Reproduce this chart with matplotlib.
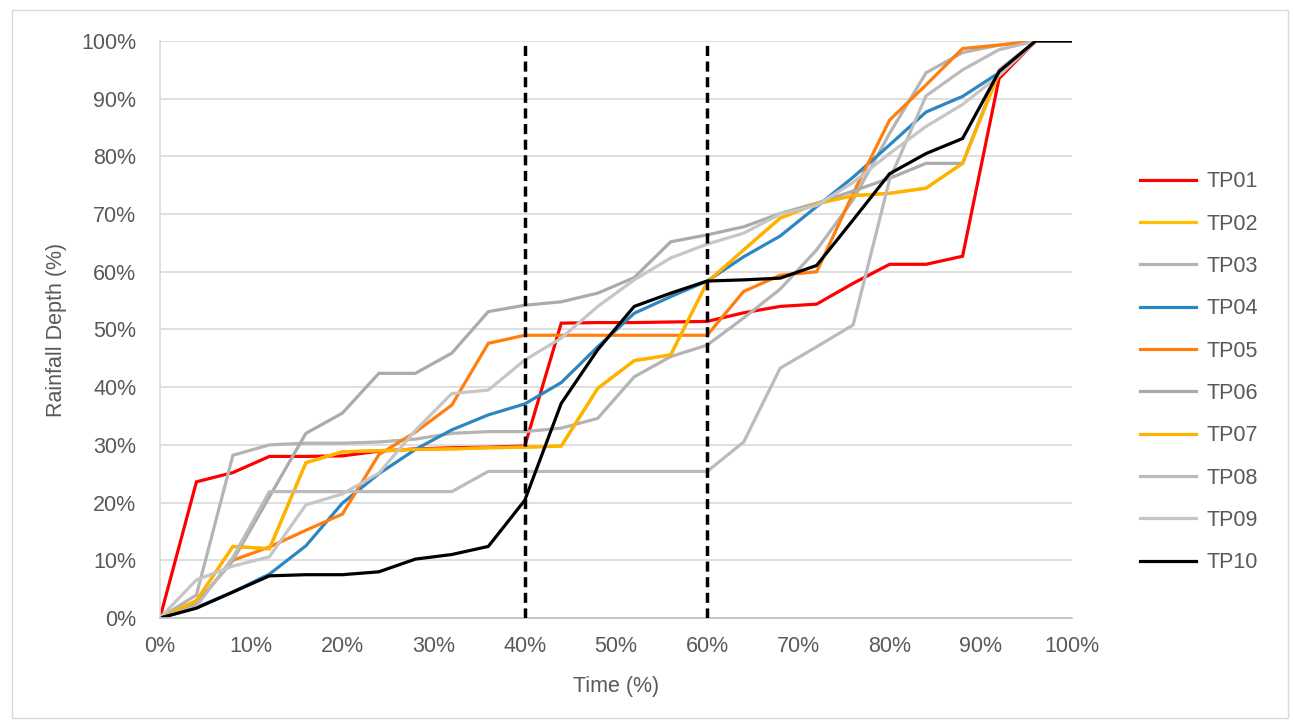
import numpy as np
import matplotlib.pyplot as plt
from matplotlib.patches import Rectangle
from matplotlib.ticker import PercentFormatter

plt.rcParams['font.family'] = ['Liberation Sans', 'DejaVu Sans']

# time axis, every 4 %
time_pct = list(range(0, 101, 4))

tp01 = [0, 23.6, 25.2, 28.0, 28.0, 28.1, 28.9, 29.3, 29.5, 29.6, 29.8, 51.1, 51.2,
        51.2, 51.3, 51.4, 52.9, 54.0, 54.4, 58.0, 61.3, 61.3, 62.7, 93.5, 100, 100]
tp02 = [0, 3.0, 12.4, 12.0, 26.9, 28.8, 29.0, 29.2, 29.3, 29.5, 29.6, 29.8, 39.8,
        44.6, 45.6, 58.2, 63.8, 69.3, 71.8, 73.2, 73.6, 74.5, 78.8, 94.5, 100, 100]
tp03 = [0, 4.0, 28.2, 30.0, 30.3, 30.3, 30.5, 31.0, 32.0, 32.3, 32.3, 32.9, 34.6,
        41.8, 45.3, 47.3, 52.0, 57.0, 63.8, 72.5, 84.0, 94.5, 98.0, 99.3, 100, 100]
tp04 = [0, 1.8, 4.5, 7.6, 12.5, 19.9, 25.0, 29.2, 32.6, 35.2, 37.1, 40.8, 47.0,
        52.8, 55.7, 58.4, 62.6, 66.2, 71.3, 76.4, 82.0, 87.7, 90.4, 94.5, 100, 100]
tp05 = [0, 2.5, 10.0, 12.3, 15.2, 18.0, 28.3, 32.2, 36.9, 47.6, 49.0, 49.0, 49.0,
        49.0, 49.0, 49.0, 56.6, 59.4, 60.0, 73.6, 86.3, 92.4, 98.7, 99.3, 100, 100]
tp06 = [0, 2.5, 10.0, 21.0, 32.0, 35.5, 42.4, 42.4, 45.9, 53.1, 54.2, 54.8, 56.3,
        59.0, 65.2, 66.4, 67.8, 70.1, 71.9, 74.0, 76.2, 78.8, 78.8, 95.0, 100, 100]
tp07 = [0, 3.0, 12.4, 12.0, 26.9, 28.8, 29.0, 29.2, 29.3, 29.5, 29.6, 29.8, 39.8,
        44.6, 45.6, 58.2, 63.8, 69.3, 71.8, 73.2, 73.6, 74.5, 78.8, 94.5, 100, 100]
tp08 = [0, 2.0, 10.5, 21.9, 21.9, 21.9, 21.9, 21.9, 21.9, 25.4, 25.4, 25.4, 25.4,
        25.4, 25.4, 25.4, 30.5, 43.3, 47.0, 50.8, 76.0, 90.5, 95.0, 98.5, 100, 100]
tp09 = [0, 6.6, 9.0, 10.6, 19.6, 21.5, 25.1, 32.5, 38.9, 39.5, 44.7, 48.5, 54.0,
        58.6, 62.4, 64.8, 66.7, 70.0, 71.5, 75.5, 80.5, 85.2, 89.0, 94.0, 100, 100]
tp10 = [0, 1.7, 4.5, 7.3, 7.5, 7.5, 8.0, 10.2, 11.0, 12.4, 20.4, 37.2, 46.5,
        54.0, 56.3, 58.4, 58.6, 58.9, 61.1, 69.0, 77.0, 80.5, 83.1, 94.7, 100, 100]

names = ['TP01', 'TP02', 'TP03', 'TP04', 'TP05', 'TP06', 'TP07', 'TP08', 'TP09', 'TP10']
series = [tp01, tp02, tp03, tp04, tp05, tp06, tp07, tp08, tp09, tp10]
colors = ['#FF0000', '#FFC000', '#B4B4B4', '#2E86C1', '#FF7F0E',
          '#ABABAB', '#FFB300', '#BBBBBB', '#C6C6C6', '#000000']

# 40 % and 60 % markers
splits = [40, 60]

txt = '#595959'
fs = 15.5

fig = plt.figure(figsize=(12.93, 7.26), dpi=100)
ax = fig.add_axes([0.1237, 0.1488, 0.8291 - 0.1237, 0.9435 - 0.1488])

# outer chart border
fig.patches.append(Rectangle((0.009, 0.011), 0.987, 0.975, transform=fig.transFigure,
                             fill=False, edgecolor='#D9D9D9', lw=1.0))

for name, vals, c in zip(names, series, colors):
    ax.plot(time_pct, vals, color=c, lw=2.3, label=name, solid_joinstyle='miter')

for s in splits:
    ax.plot([s, s], [0, 100], color='black', lw=2.5, linestyle=(0, (2.9, 1.6)), zorder=5)

ax.set_xlim(0, 100)
ax.set_ylim(0, 100)
ax.set_xticks(np.arange(0, 101, 10))
ax.set_yticks(np.arange(0, 101, 10))
ax.xaxis.set_major_formatter(PercentFormatter(decimals=0))
ax.yaxis.set_major_formatter(PercentFormatter(decimals=0))
ax.tick_params(axis='both', length=0, labelsize=fs, labelcolor=txt)
ax.tick_params(axis='y', pad=17)
ax.tick_params(axis='x', pad=13)

ax.grid(axis='y', color='#D9D9D9', lw=1.2)
ax.set_axisbelow(True)
for side in ['top', 'right']:
    ax.spines[side].set_visible(False)
ax.spines['bottom'].set_color('#BFBFBF')
ax.spines['bottom'].set_linewidth(1.2)
ax.spines['left'].set_color('#D9D9D9')
ax.spines['left'].set_linewidth(1.2)

ax.set_xlabel('Time (%)', fontsize=fs, color=txt, labelpad=14)
ax.set_ylabel('Rainfall Depth (%)', fontsize=fs, color=txt, labelpad=10)

ax.legend(loc='upper left', bbox_to_anchor=(0.8817, 0.764), bbox_transform=fig.transFigure,
          frameon=False, fontsize=fs, handlelength=2.6, handletextpad=0.5,
          labelspacing=0.99, borderpad=0, borderaxespad=0, labelcolor=txt)

fig.savefig('out.png', dpi=100)
